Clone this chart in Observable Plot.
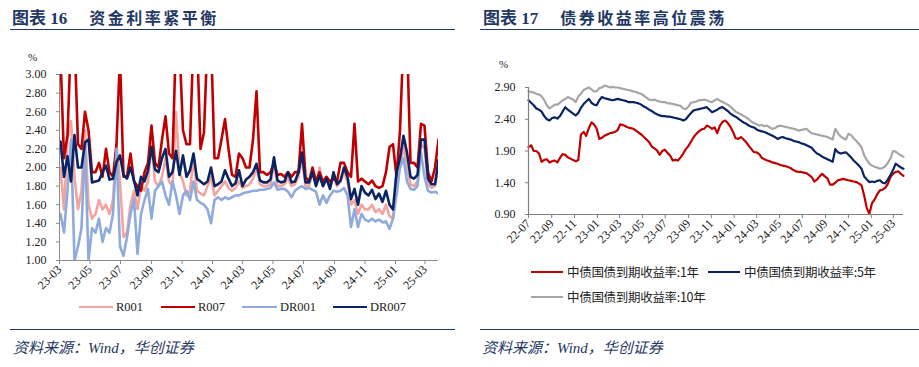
<!DOCTYPE html>
<html><head><meta charset="utf-8">
<script src="https://cdn.jsdelivr.net/npm/d3@7"></script>
<script src="https://cdn.jsdelivr.net/npm/@observablehq/plot@0.6"></script>
<style>
html,body{margin:0;padding:0;background:#fff;}
#root{position:relative;width:919px;height:367px;overflow:hidden;background:#fff;}
.title{position:absolute;font-family:"Liberation Serif","Noto Sans CJK SC",serif;font-weight:700;font-size:17px;color:#1F3864;white-space:nowrap;line-height:20px;}
.title .cn{font-family:"Noto Sans CJK SC",sans-serif;font-weight:700;letter-spacing:2.5px;margin-left:22px;font-size:16px;}
.rule{position:absolute;height:0;border-top:1.6px solid #1F3864;}
.foot{position:absolute;font-family:"Liberation Serif","Noto Sans CJK SC",serif;font-style:italic;font-size:15px;color:#1F3864;white-space:nowrap;line-height:18px;}
.unit{position:absolute;font-family:"Liberation Serif",serif;font-size:11px;color:#222;line-height:12px;}
.lg{position:absolute;height:0;}
.lt{position:absolute;white-space:nowrap;line-height:16px;color:#222;}
.lt.serif{font-family:"Liberation Serif",serif;font-size:12.5px;}
.lt.cjk{font-family:"Noto Sans CJK SC",sans-serif;font-size:12.5px;letter-spacing:-0.3px;}
#c1,#c2{position:absolute;top:0;}
#c1{left:0;} #c2{left:460px;}
</style></head>
<body><div id="root">
<div id="c1"></div><div id="c2"></div>
<div class="title" style="left:12px;top:7px;">图表 16<span class="cn">资金利率紧平衡</span></div>
<div class="rule" style="left:10px;top:29px;width:445px;"></div>
<div class="unit" style="left:28px;top:51px;">%</div>
<div id="lg1"></div>
<div class="rule" style="left:10px;top:329px;width:445px;"></div>
<div class="foot" style="left:13px;top:339px;">资料来源：Wind，华创证券</div>

<div class="title" style="left:483px;top:7px;">图表 17<span class="cn">债券收益率高位震荡</span></div>
<div class="rule" style="left:480px;top:29px;width:439px;"></div>
<div class="unit" style="left:499px;top:58px;">%</div>
<div id="lg2"></div>
<div class="rule" style="left:480px;top:329px;width:439px;"></div>
<div class="foot" style="left:482px;top:339px;">资料来源：Wind，华创证券</div>
</div>
<script>
// ---------- Left chart data (weekly readings, from 2023-03-03) ----------
const leftStart = "2023-03-03";
const leftDomain = ["2023-03-01", "2025-03-28"];
const leftNames = ["R001", "R007", "DR001", "DR007"];
const leftColors = ["#F4A49E", "#C00000", "#8FAADC", "#0A2463"];
const R001 = [2.0,1.55,2.3,2.5,1.9,1.55,1.75,2.4,1.6,1.45, 1.5,1.65,1.55,1.6,1.5,1.65,2.25,1.85,1.25,1.3, 1.6,1.75,1.55,1.8,1.75,1.85,2.25,1.85,1.8,1.9, 2.1,1.85,1.8,2.6,1.95,1.85,1.7,1.75,2.1,1.75, 1.72,1.7,1.8,1.9,1.7,1.75,1.8,1.85,1.78,1.75, 1.78,1.85,1.78,1.8,1.82,1.88,2.0,1.82,1.8,1.8, 1.82,2.05,1.8,1.8,1.82,1.88,1.8,1.82,1.9,2.1, 1.8,1.8,1.95,1.82,2.0,1.8,1.9,1.78,1.9,1.8, 1.85,1.95,1.85,1.6,1.65,1.5,1.6,1.55,1.55,1.6, 1.52,1.55,1.5,1.6,1.48,1.45,1.85,2.0,2.24,2.0, 1.82,1.8,1.85,2.25,2.2,1.82,1.78,1.8,2.0];
const R007 = [3.2,2.1,2.35,3.4,3.4,2.25,2.2,2.6,2.4,1.95, 1.95,2.05,1.9,2.2,1.95,1.9,2.25,3.2,1.9,1.9, 2.15,1.85,1.8,1.75,1.95,2.05,2.45,2.05,2.0,2.3, 2.55,2.15,2.1,3.4,3.3,2.4,2.25,2.25,3.4,3.4, 2.2,2.38,3.4,3.4,2.1,2.1,2.3,2.52,2.2,1.92, 1.9,2.15,2.1,2.0,2.0,2.3,2.82,1.95,1.95,1.92, 1.95,2.05,1.92,1.93,1.9,1.95,1.9,1.95,1.95,2.47, 1.9,1.85,2.0,1.85,1.95,1.85,1.9,1.85,1.88,1.85, 2.05,2.05,1.95,1.9,2.47,1.85,1.88,1.85,1.82,1.86, 1.8,1.78,1.8,1.95,2.22,2.25,1.9,2.4,3.4,3.4, 2.05,2.05,2.0,2.47,2.45,1.95,1.85,2.0,2.3];
const DR001 = [1.5,1.3,1.75,2.3,1.0,1.15,1.35,2.25,1.0,1.35, 1.3,1.45,1.2,1.35,1.3,1.5,2.2,1.15,1.05,1.25, 1.5,1.66,1.07,1.5,1.65,1.77,1.45,1.75,1.8,1.85, 1.7,1.6,1.85,1.7,1.5,1.7,1.75,1.65,1.85,1.65, 1.62,1.6,1.55,1.4,1.65,1.68,1.65,1.68,1.66,1.68, 1.7,1.7,1.72,1.73,1.74,1.75,1.75,1.76,1.76,1.77, 1.78,1.84,1.76,1.77,1.77,1.74,1.68,1.75,1.78,1.8, 1.77,1.78,1.76,1.74,1.6,1.7,1.62,1.7,1.75,1.74, 1.75,1.78,1.7,1.36,1.55,1.36,1.5,1.44,1.42,1.45, 1.42,1.44,1.41,1.42,1.34,1.45,1.7,2.0,2.1,1.85, 1.77,1.76,1.8,2.16,1.9,1.75,1.73,1.74,1.72];
const DR007 = [2.28,1.9,2.12,1.85,2.35,2.0,2.0,2.27,2.3,1.84, 1.85,1.86,1.95,2.02,1.87,1.88,2.06,2.13,1.92,1.88, 2.0,1.86,1.7,1.9,1.85,1.97,2.22,1.98,1.95,2.1, 2.2,1.9,1.95,2.18,1.92,2.13,1.9,1.97,2.15,1.88, 1.85,1.82,1.85,2.0,1.8,1.82,1.85,1.97,1.88,1.8, 1.83,1.97,1.8,1.87,1.9,1.95,2.04,1.86,1.84,1.84, 1.87,2.11,1.86,1.84,1.85,1.95,1.84,1.85,1.95,2.16, 1.84,1.84,1.95,1.8,1.91,1.8,1.88,1.77,1.95,1.82, 1.86,2.0,1.9,1.66,1.77,1.6,1.8,1.73,1.7,1.76, 1.66,1.72,1.63,1.75,1.6,1.55,1.95,2.1,2.34,2.16, 1.9,1.88,1.92,2.3,2.3,1.88,1.82,1.82,2.08];
const leftYTicks = [1.00,1.20,1.40,1.60,1.80,2.00,2.20,2.40,2.60,2.80,3.00];
const leftXTicks = ["2023-03-01","2023-05-01","2023-07-01","2023-09-01","2023-11-01","2024-01-01","2024-03-01","2024-05-01","2024-07-01","2024-09-01","2024-11-01","2025-01-01","2025-03-01"];

// ---------- Right chart data (weekly readings, from 2022-07-01) ----------
const rightStart = "2022-07-01";
const rightDomain = ["2022-07-01", "2025-03-28"];
const rightNames = ["中债国债到期收益率:1年", "中债国债到期收益率:5年", "中债国债到期收益率:10年"];
const rightColors = ["#C00000", "#0A2463", "#A6A6A6"];
const Y1 = [1.96,1.99,1.90,1.90,1.86,1.73,1.76,1.77,1.72,1.74, 1.75,1.72,1.79,1.85,1.84,1.80,1.78,1.76,1.74,1.76, 2.16,2.20,2.14,2.26,2.35,2.32,2.25,2.09,2.11,2.14, 2.16,2.18,2.19,2.20,2.23,2.32,2.31,2.29,2.27,2.26, 2.25,2.22,2.19,2.16,2.12,2.08,2.04,1.97,1.94,1.91, 1.84,1.90,1.92,1.87,1.83,1.75,1.76,1.75,1.80,1.86, 1.93,1.98,2.05,2.12,2.17,2.21,2.24,2.25,2.30,2.28, 2.25,2.27,2.18,2.30,2.36,2.38,2.34,2.28,2.20,2.10, 2.09,2.12,2.08,2.04,1.98,1.93,1.88,1.88,1.85,1.79, 1.77,1.75,1.74,1.72,1.71,1.70,1.68,1.67,1.66,1.65, 1.63,1.60,1.58,1.57,1.57,1.56,1.55,1.52,1.49,1.42, 1.45,1.50,1.54,1.50,1.47,1.37,1.37,1.40,1.44,1.45, 1.46,1.45,1.44,1.43,1.42,1.41,1.39,1.36,1.20,1.00, 0.91,1.08,1.14,1.22,1.28,1.29,1.32,1.38,1.49,1.54, 1.57,1.58,1.54,1.51];
const Y5 = [2.70,2.66,2.62,2.57,2.55,2.52,2.45,2.40,2.38,2.42, 2.43,2.41,2.45,2.52,2.59,2.55,2.52,2.49,2.46,2.50, 2.58,2.64,2.68,2.72,2.66,2.63,2.62,2.70,2.75,2.73, 2.72,2.71,2.70,2.71,2.72,2.71,2.70,2.69,2.67,2.67, 2.67,2.66,2.65,2.63,2.60,2.58,2.55,2.53,2.50,2.48, 2.46,2.45,2.45,2.44,2.44,2.43,2.42,2.41,2.40,2.38, 2.40,2.45,2.50,2.54,2.55,2.56,2.57,2.58,2.59,2.55, 2.51,2.53,2.55,2.58,2.59,2.56,2.53,2.49,2.46,2.44, 2.41,2.38,2.35,2.33,2.30,2.28,2.27,2.24,2.22,2.21, 2.20,2.18,2.16,2.14,2.12,2.09,2.11,2.12,2.10,2.09, 2.08,2.06,2.05,2.04,2.02,2.01,1.99,1.97,1.95,1.90, 1.86,1.84,1.81,1.79,1.77,1.75,1.73,1.93,1.88,1.86, 1.87,1.88,1.84,1.80,1.75,1.71,1.67,1.62,1.50,1.45, 1.41,1.42,1.41,1.43,1.44,1.40,1.39,1.45,1.52,1.60, 1.70,1.67,1.64,1.62];
const Y10 = [2.84,2.83,2.82,2.80,2.79,2.76,2.70,2.62,2.57,2.60, 2.63,2.63,2.66,2.70,2.72,2.75,2.73,2.71,2.67,2.76, 2.80,2.86,2.88,2.90,2.87,2.84,2.84,2.89,2.90,2.93, 2.92,2.90,2.91,2.90,2.90,2.89,2.88,2.87,2.86,2.85, 2.84,2.83,2.81,2.80,2.77,2.74,2.71,2.70,2.71,2.69, 2.68,2.67,2.67,2.65,2.65,2.64,2.63,2.62,2.61,2.57, 2.56,2.60,2.66,2.67,2.68,2.70,2.70,2.71,2.70,2.68, 2.67,2.70,2.72,2.69,2.67,2.65,2.63,2.60,2.56,2.52, 2.50,2.48,2.45,2.43,2.40,2.36,2.34,2.32,2.30,2.31, 2.29,2.30,2.27,2.25,2.26,2.29,2.30,2.29,2.28,2.27, 2.26,2.25,2.24,2.22,2.23,2.24,2.25,2.21,2.18,2.17, 2.16,2.15,2.14,2.13,2.12,2.10,2.08,2.25,2.18,2.13, 2.10,2.08,2.17,2.15,2.10,2.06,2.01,1.96,1.83,1.76, 1.70,1.67,1.65,1.64,1.62,1.63,1.66,1.71,1.78,1.90, 1.89,1.86,1.83,1.81];
const rightYTicks = [0.90,1.40,1.90,2.40,2.90];
const rightXTicks = ["2022-07-01","2022-09-01","2022-11-01","2023-01-01","2023-03-01","2023-05-01","2023-07-01","2023-09-01","2023-11-01","2024-01-01","2024-03-01","2024-05-01","2024-07-01","2024-09-01","2024-11-01","2025-01-01","2025-03-01"];

// ---------- build ----------
const P = d3.utcParse("%Y-%m-%d");
function rows(start, names, series) {
  const s = P(start), out = [];
  series.forEach((arr, k) => arr.forEach((v, i) => out.push({date: d3.utcDay.offset(s, 7 * i), v, name: names[k]})));
  return out;
}
const leftData = rows(leftStart, leftNames, [R001, R007, DR001, DR007]);
const rightData = rows(rightStart, rightNames, [Y1, Y5, Y10]);
const fmtX = d3.utcFormat("%y-%m");
const axisStyle = {fontFamily: "'Liberation Serif', serif", fontSize: "12px", color: "#222", background: "transparent", overflow: "visible"};

const left = Plot.plot({
  width: 460, height: 300,
  marginLeft: 59, marginRight: 22, marginTop: 74, marginBottom: 40,
  style: axisStyle,
  x: {type: "utc", domain: leftDomain.map(P)},
  y: {domain: [1, 3]},
  color: {domain: leftNames, range: leftColors},
  marks: [
    Plot.line(leftData, {x: "date", y: "v", z: "name", stroke: "name", strokeWidth: 2.6, clip: true, strokeLinejoin: "round"}),
    Plot.ruleX([P(leftDomain[0])], {stroke: "#8c8c8c", strokeWidth: 1}),
    Plot.ruleY([1], {stroke: "#8c8c8c", strokeWidth: 1.2}),
    Plot.axisY({ticks: leftYTicks, tickFormat: d => d.toFixed(2), tickSize: 3, tickPadding: 10, stroke: "#8c8c8c", fill: "#222", label: null}),
    Plot.axisX({ticks: leftXTicks.map(P), tickFormat: fmtX, tickRotate: -45, tickSize: 4, tickPadding: 3, stroke: "#8c8c8c", fill: "#222", label: null})
  ]
});
document.getElementById("c1").appendChild(left);

const right = Plot.plot({
  width: 459, height: 250,
  marginLeft: 68, marginRight: 16, marginTop: 87, marginBottom: 36,
  style: axisStyle,
  x: {type: "utc", domain: rightDomain.map(P)},
  y: {domain: [0.9, 2.9]},
  color: {domain: rightNames, range: rightColors},
  marks: [
    Plot.line(rightData, {x: "date", y: "v", z: "name", stroke: "name", strokeWidth: 2.2, strokeLinejoin: "round"}),
    Plot.ruleX([P(rightDomain[0])], {stroke: "#7f7f7f", strokeWidth: 1.2}),
    Plot.ruleY([0.9], {stroke: "#7f7f7f", strokeWidth: 1.2}),
    Plot.axisY({ticks: rightYTicks, tickFormat: d => d.toFixed(2), tickSize: 3, tickPadding: 10, stroke: "#7f7f7f", fill: "#222", label: null}),
    Plot.axisX({ticks: rightXTicks.map(P), tickFormat: fmtX, tickRotate: -45, tickSize: 4, tickPadding: 3, stroke: "#7f7f7f", fill: "#222", label: null})
  ]
});
document.getElementById("c2").appendChild(right);

// ---------- legends ----------
function legend(host, items) {
  const el = document.getElementById(host);
  items.forEach(it => {
    const l = document.createElement("div");
    l.className = "lg";
    l.style.cssText = `left:${it.x}px;top:${it.y - 1.3}px;width:${it.w}px;border-top:2.6px solid ${it.c};`;
    el.appendChild(l);
    const t = document.createElement("div");
    t.className = "lt " + it.cls;
    t.style.left = it.tx + "px";
    t.style.top = (it.y - 8) + "px";
    t.textContent = it.label;
    el.appendChild(t);
  });
}
legend("lg1", [
  {x: 79, w: 34, tx: 116, y: 307, c: leftColors[0], label: leftNames[0], cls: "serif"},
  {x: 161, w: 34, tx: 198, y: 307, c: leftColors[1], label: leftNames[1], cls: "serif"},
  {x: 242, w: 35, tx: 280, y: 307, c: leftColors[2], label: leftNames[2], cls: "serif"},
  {x: 333, w: 34, tx: 370, y: 307, c: leftColors[3], label: leftNames[3], cls: "serif"}
]);
legend("lg2", [
  {x: 531, w: 32, tx: 567, y: 272, c: rightColors[0], label: rightNames[0], cls: "cjk"},
  {x: 708, w: 32, tx: 744, y: 272, c: rightColors[1], label: rightNames[1], cls: "cjk"},
  {x: 531, w: 32, tx: 567, y: 297, c: rightColors[2], label: rightNames[2], cls: "cjk"}
]);
</script>
</body></html>
